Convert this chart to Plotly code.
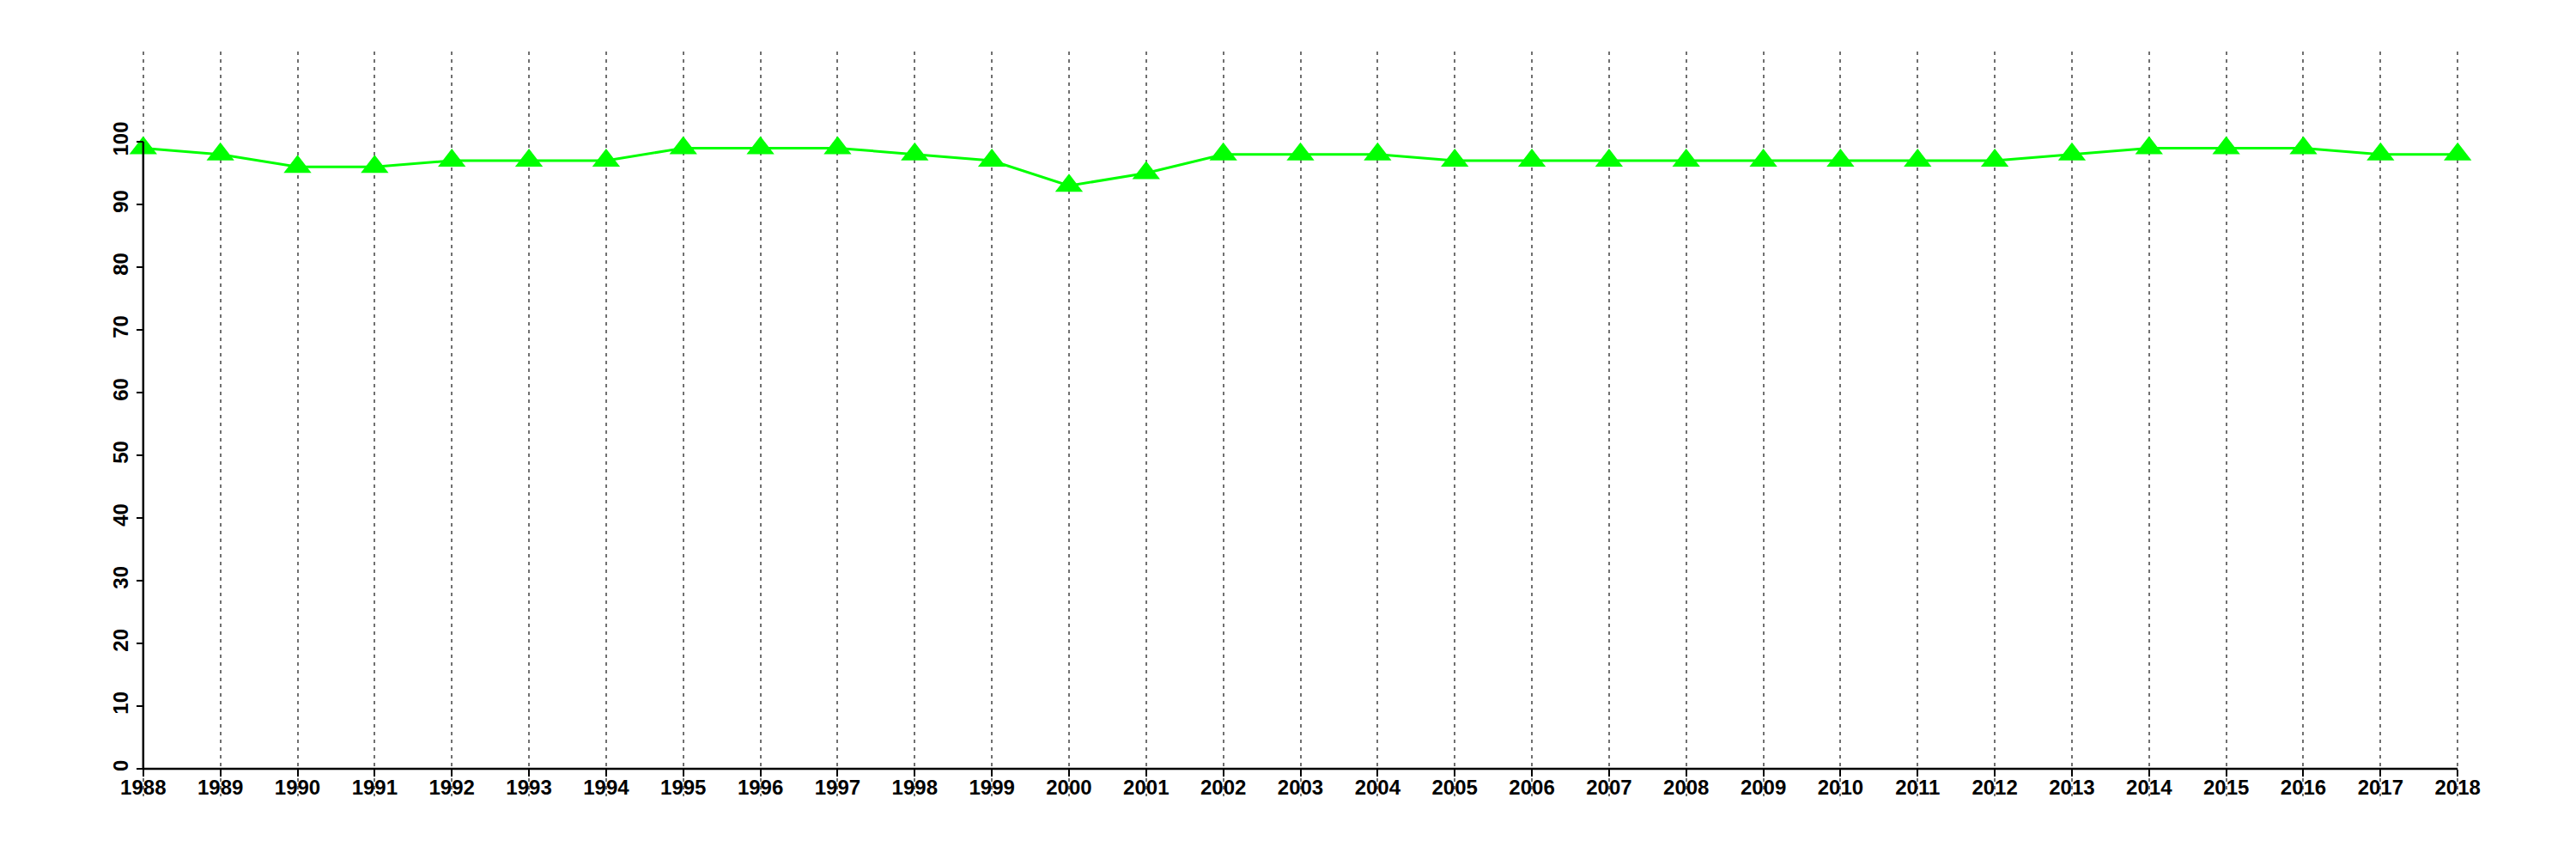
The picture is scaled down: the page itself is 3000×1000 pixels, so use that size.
import plotly.graph_objects as go

years = list(range(1988, 2019))
values = [99, 98, 96, 96, 97, 97, 97, 99, 99, 99, 98, 97, 93, 95, 98, 98, 98,
          97, 97, 97, 97, 97, 97, 97, 97, 98, 99, 99, 99, 98, 98]
y_ticks = list(range(0, 101, 10))

x_range = [1986.8, 2019.2]
y_range = [-4.4, 114.4]

fig = go.Figure()
fig.add_trace(go.Scatter(
    x=years, y=values, mode="lines+markers",
    line=dict(color="#00FF00", width=3),
    marker=dict(symbol="triangle-up", size=28, color="#00FF00", line=dict(width=0)),
    showlegend=False, cliponaxis=False,
))

font = dict(family="Liberation Sans, Arial, sans-serif", size=24, color="black", weight="bold")

fig.update_layout(
    width=3000, height=1000,
    paper_bgcolor="white", plot_bgcolor="white",
    margin=dict(l=51, r=38, t=52, b=81),
    font=font,
    xaxis=dict(
        range=x_range, tickmode="array", tickvals=years,
        ticktext=[str(y) for y in years],
        showgrid=True, gridcolor="#707070", gridwidth=2, griddash="4px,5px",
        zeroline=False, showline=False,
        ticks="outside", ticklen=8, tickwidth=2, tickcolor="black",
        ticklabelstandoff=-8,
        anchor="free", position=(0 - y_range[0]) / (y_range[1] - y_range[0]),
        tickfont=font,
    ),
    yaxis=dict(
        range=y_range, tickmode="array", tickvals=y_ticks,
        ticktext=[str(v) for v in y_ticks],
        showgrid=False, zeroline=False, showline=False,
        ticks="outside", ticklen=8, tickwidth=2, tickcolor="black",
        tickangle=-90,
        anchor="free", position=(years[0] - x_range[0]) / (x_range[1] - x_range[0]),
        tickfont=font,
    ),
    shapes=[
        dict(type="line", xref="x", yref="y", x0=years[0], x1=years[-1], y0=0, y1=0,
             line=dict(color="black", width=2.5), layer="above"),
        dict(type="line", xref="x", yref="y", x0=years[0], x1=years[0], y0=y_ticks[0], y1=y_ticks[-1],
             line=dict(color="black", width=2.5), layer="above"),
    ],
)

fig.write_html("out.html")
